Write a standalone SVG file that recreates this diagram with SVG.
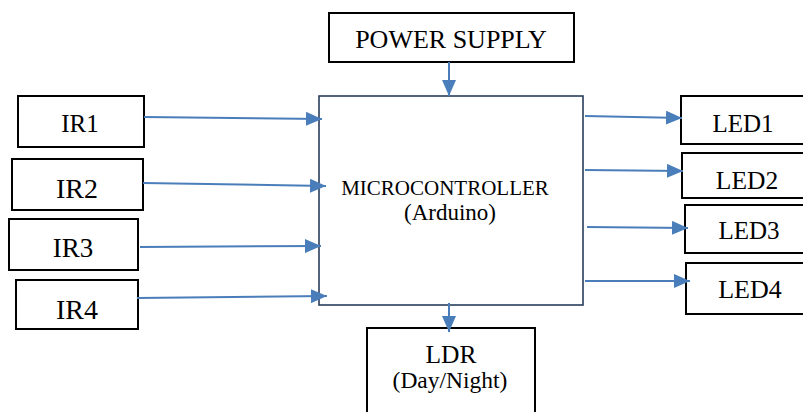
<svg xmlns="http://www.w3.org/2000/svg" width="803" height="412" viewBox="0 0 803 412">
<style>
.box{fill:#fff;stroke:#000;stroke-width:2}
.mc{fill:#fff;stroke:#2a3d5c;stroke-width:1.6}
.t{font-family:'Liberation Serif','Times New Roman','DejaVu Serif',serif;fill:#000;text-anchor:middle}
.c{stroke:#4a7ebb;stroke-width:2;fill:none;marker-end:url(#ah)}
</style>
<defs>
<marker id="ah" markerUnits="userSpaceOnUse" markerWidth="16" markerHeight="14" refX="16" refY="7" orient="auto">
<path d="M0,0 L16,7 L0,14 z" fill="#4a7ebb"/>
</marker>
</defs>
<rect width="803" height="412" fill="#fff"/>
<g id="power"><rect class="box" x="329" y="13" width="245" height="49"/><text class="t" x="451" y="48" font-size="26">POWER SUPPLY</text></g>
<g id="mcu"><rect class="mc" x="319" y="96" width="264" height="209"/><text class="t" x="445" y="195" font-size="21">MICROCONTROLLER</text><text class="t" x="450" y="220" font-size="23">(Arduino)</text></g>
<g id="ir1"><rect class="box" x="18" y="96" width="126" height="51"/><text class="t" x="80" y="132" font-size="25">IR1</text></g>
<g id="ir2"><rect class="box" x="12" y="159" width="131" height="51"/><text class="t" x="77" y="198" font-size="28">IR2</text></g>
<g id="ir3"><rect class="box" x="9" y="219" width="129" height="51"/><text class="t" x="73" y="257" font-size="27">IR3</text></g>
<g id="ir4"><rect class="box" x="16" y="280" width="122" height="49"/><text class="t" x="77" y="319" font-size="28">IR4</text></g>
<g id="led1"><rect class="box" x="681" y="96" width="130" height="48"/><text class="t" x="743" y="132" font-size="25">LED1</text></g>
<g id="led2"><rect class="box" x="682" y="153" width="130" height="45"/><text class="t" x="747" y="189" font-size="25.5">LED2</text></g>
<g id="led3"><rect class="box" x="685" y="205" width="130" height="48"/><text class="t" x="749" y="239" font-size="25">LED3</text></g>
<g id="led4"><rect class="box" x="686" y="263" width="130" height="51"/><text class="t" x="750" y="298" font-size="26">LED4</text></g>
<g id="ldr"><rect class="box" x="367" y="328" width="168" height="100"/><text class="t" x="451" y="363" font-size="25.5">LDR</text><text class="t" x="450" y="388" font-size="23.5">(Day/Night)</text></g>
<g id="connectors">
<line class="c" x1="144" y1="117" x2="322" y2="119"/>
<line class="c" x1="143" y1="183" x2="326" y2="186"/>
<line class="c" x1="140" y1="247" x2="321" y2="246"/>
<line class="c" x1="137" y1="298" x2="327" y2="296"/>
<line class="c" x1="449" y1="62" x2="449" y2="96"/>
<line class="c" x1="449" y1="303" x2="449" y2="332"/>
<line class="c" x1="585" y1="116" x2="682" y2="118"/>
<line class="c" x1="585" y1="170" x2="683" y2="171"/>
<line class="c" x1="587" y1="227" x2="688" y2="228"/>
<line class="c" x1="585" y1="281" x2="690" y2="281"/>
</g>
</svg>
